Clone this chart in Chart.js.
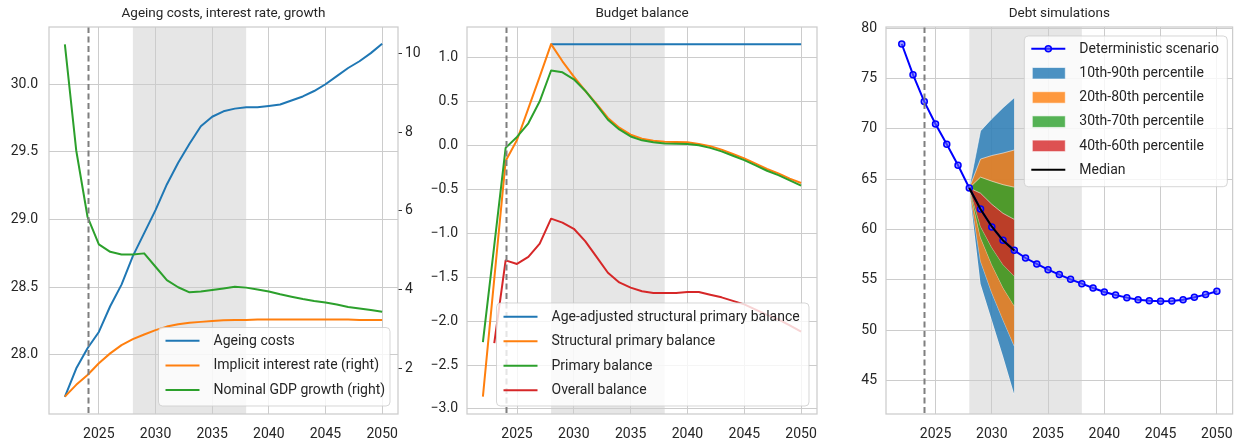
<!DOCTYPE html>
<html>
<head>
<meta charset="utf-8">
<script src="https://cdn.jsdelivr.net/npm/chart.js@4.4.1/dist/chart.umd.min.js"></script>
<style>
  html, body { margin: 0; padding: 0; background: #ffffff; }
  #wrap { position: relative; width: 1245px; height: 441px; overflow: hidden; }
  canvas { position: absolute; top: 0; }
</style>
</head>
<body>
<div id="wrap">
  <canvas id="c1" width="425" height="441" style="left:0px"></canvas>
  <canvas id="c2" width="410" height="441" style="left:420px"></canvas>
  <canvas id="c3" width="415" height="441" style="left:830px"></canvas>
</div>
<script>
// ---- data ----
const years = [2022, 2023, 2024, 2025, 2026, 2027, 2028, 2029, 2030, 2031, 2032, 2033, 2034, 2035,
  2036, 2037, 2038, 2039, 2040, 2041, 2042, 2043, 2044, 2045, 2046, 2047, 2048, 2049, 2050];
const xTicks = [2025, 2030, 2035, 2040, 2045, 2050];

// panel 1: ageing costs (left axis), interest rate and growth (right axis)
const ageingCosts = [27.69, 27.90, 28.05, 28.17, 28.36, 28.52, 28.73, 28.90, 29.07, 29.26, 29.42, 29.56,
  29.69, 29.76, 29.80, 29.82, 29.83, 29.83, 29.84, 29.85, 29.88, 29.91, 29.95, 30.00, 30.06, 30.12, 30.17, 30.23, 30.30];
const interestRate = [1.28, 1.58, 1.83, 2.13, 2.38, 2.59, 2.74, 2.86, 2.97, 3.06, 3.12, 3.16, 3.18, 3.20,
  3.22, 3.23, 3.23, 3.24, 3.24, 3.24, 3.24, 3.24, 3.24, 3.24, 3.24, 3.24, 3.23, 3.23, 3.23];
const gdpGrowth = [10.23, 7.54, 5.85, 5.15, 4.96, 4.89, 4.89, 4.92, 4.58, 4.24, 4.06, 3.93, 3.95, 3.99,
  4.03, 4.07, 4.05, 4.00, 3.95, 3.88, 3.82, 3.76, 3.71, 3.67, 3.62, 3.56, 3.52, 3.48, 3.44];
const leftTicks1 = [28.0, 28.5, 29.0, 29.5, 30.0];
const rightTicks1 = [2, 4, 6, 8, 10];

// panel 2: budget balance
const ageAdjusted = [null, null, null, null, null, null, 1.15, 1.15, 1.15, 1.15, 1.15, 1.15, 1.15, 1.15,
  1.15, 1.15, 1.15, 1.15, 1.15, 1.15, 1.15, 1.15, 1.15, 1.15, 1.15, 1.15, 1.15, 1.15, 1.15];
const structuralPrimary = [-2.86, -1.52, -0.18, 0.06, 0.42, 0.78, 1.15, 0.955, 0.78, 0.62, 0.47, 0.31, 0.20, 0.12,
  0.075, 0.05, 0.04, 0.037, 0.033, 0.014, -0.01, -0.05, -0.10, -0.15, -0.21, -0.27, -0.32, -0.38, -0.43];
const primaryBalance = [-2.24, -1.14, -0.03, 0.094, 0.25, 0.50, 0.85, 0.83, 0.75, 0.62, 0.46, 0.29, 0.18, 0.10,
  0.056, 0.033, 0.02, 0.018, 0.014, 0.0, -0.03, -0.07, -0.12, -0.17, -0.23, -0.29, -0.34, -0.40, -0.46];
const overallBalance = [null, -2.25, -1.31, -1.35, -1.27, -1.12, -0.835, -0.88, -0.95, -1.09, -1.27, -1.45, -1.56, -1.62,
  -1.66, -1.68, -1.68, -1.68, -1.67, -1.67, -1.70, -1.73, -1.77, -1.81, -1.87, -1.93, -1.98, -2.05, -2.12];
const ticks2 = [-3.0, -2.5, -2.0, -1.5, -1.0, -0.5, 0.0, 0.5, 1.0];

// panel 3: debt simulations
const debtDeterministic = [78.44, 75.39, 72.71, 70.49, 68.47, 66.38, 64.12, 62.03, 60.25, 58.92, 57.92, 57.16, 56.57, 56.00,
  55.51, 55.04, 54.61, 54.18, 53.78, 53.48, 53.22, 53.02, 52.92, 52.85, 52.89, 53.02, 53.25, 53.52, 53.85];
const fanYears = [2028, 2029, 2030, 2031, 2032];
const p10 = [64.12, 54.6, 51.0, 47.4, 43.6];
const p20 = [64.12, 56.85, 53.7, 51.0, 48.4];
const p30 = [64.12, 59.2, 56.5, 54.2, 52.4];
const p40 = [64.12, 60.3, 58.2, 56.5, 55.35];
const median = [64.12, 62.0, 60.3, 58.9, 57.9];
const p60 = [64.12, 63.6, 62.5, 61.6, 61.0];
const p70 = [64.12, 65.2, 64.8, 64.45, 64.2];
const p80 = [64.12, 67.0, 67.35, 67.6, 67.9];
const p90 = [64.12, 69.8, 71.0, 72.1, 73.1];
const ticks3 = [45, 50, 55, 60, 65, 70, 75, 80];

const lastActualYear = 2024;
const adjustmentPeriod = [2028, 2038];

// ---- styling ----
const FONT = 'Roboto, "Noto Sans", sans-serif';
const TEXT = '#262626';
const GRID = '#cccccc';
const C_BLUE = '#1f77b4', C_ORANGE = '#ff7f0e', C_GREEN = '#2ca02c', C_RED = '#d62728';
const FAN = {
  blue: 'rgba(31,119,180,0.8)',
  orange: 'rgba(255,127,14,0.8)',
  green: 'rgba(44,160,44,0.8)',
  red: 'rgba(214,39,40,0.8)'
};

Chart.defaults.font.family = FONT;
Chart.defaults.font.size = 14;
Chart.defaults.color = TEXT;

function pts(xs, ys) {
  return xs.map((x, i) => ({ x: x, y: ys[i] }));
}

function line(label, ys, color, extra) {
  return Object.assign({
    label: label,
    data: pts(years, ys),
    borderColor: color,
    backgroundColor: color,
    borderWidth: 2,
    pointRadius: 0,
    tension: 0,
    fill: false,
    spanGaps: false,
    borderJoinStyle: 'round',
    borderCapStyle: 'butt'
  }, extra || {});
}

function fixedTicks(list) {
  return scale => { scale.ticks = list.map(v => ({ value: v })); };
}

function xScale() {
  return {
    type: 'linear',
    min: 2020.6,
    max: 2051.4,
    afterBuildTicks: fixedTicks(xTicks),
    grid: { color: GRID, lineWidth: 1, drawTicks: false },
    border: { display: false },
    ticks: { padding: 12, color: TEXT, callback: v => String(v), maxRotation: 0 },
    afterFit: s => { s.height = 27; }
  };
}

function yScale(min, max, list, fmt, width, pad) {
  return {
    type: 'linear',
    position: 'left',
    min: min,
    max: max,
    afterBuildTicks: fixedTicks(list),
    grid: { color: GRID, lineWidth: 1, drawTicks: false },
    border: { display: false },
    ticks: { padding: pad, color: TEXT, callback: fmt },
    afterFit: s => { s.width = width; }
  };
}

const minus = v => (v < 0 ? '\u2212' + Math.abs(v).toFixed(1) : v.toFixed(1));

// decorations: shaded period, dashed vertical, frame, title, legend
const decor = {
  id: 'decor',
  beforeDraw(chart, args, opts) {
    const { ctx, chartArea: a, scales: { x } } = chart;
    ctx.save();
    ctx.fillStyle = '#e6e6e6';
    const x0 = x.getPixelForValue(adjustmentPeriod[0]);
    const x1 = x.getPixelForValue(adjustmentPeriod[1]);
    ctx.fillRect(x0, a.top, x1 - x0, a.bottom - a.top);
    ctx.restore();
  },
  afterDatasetsDraw(chart, args, opts) {
    const { ctx, chartArea: a, scales: { x } } = chart;
    ctx.save();
    const xv = Math.round(x.getPixelForValue(lastActualYear)) + 0.5;
    ctx.strokeStyle = '#7f7f7f';
    ctx.lineWidth = 2;
    ctx.setLineDash([6, 3.5]);
    ctx.beginPath();
    ctx.moveTo(xv, a.top);
    ctx.lineTo(xv, a.bottom);
    ctx.stroke();
    ctx.setLineDash([]);
    ctx.strokeStyle = GRID;
    ctx.lineWidth = 1.25;
    ctx.strokeRect(a.left, a.top, a.right - a.left, a.bottom - a.top);
    ctx.restore();
  },
  afterDraw(chart, args, opts) {
    const { ctx, chartArea: a } = chart;
    ctx.save();
    ctx.fillStyle = TEXT;
    ctx.font = '13.5px ' + FONT;
    ctx.textAlign = 'center';
    ctx.textBaseline = 'middle';
    ctx.fillText(opts.title, (a.left + a.right) / 2, 14);

    const b = opts.legend;
    ctx.beginPath();
    ctx.roundRect(b.x, b.y, b.w, b.h, 4);
    ctx.fillStyle = 'rgba(255,255,255,0.8)';
    ctx.fill();
    ctx.strokeStyle = 'rgba(204,204,204,0.8)';
    ctx.lineWidth = 1;
    ctx.stroke();
    ctx.font = '14px ' + FONT;
    ctx.textAlign = 'left';
    b.items.forEach((it, i) => {
      const cy = b.y + b.first + i * b.step;
      const sx0 = b.x + 7, sx1 = b.x + 41;
      if (it.kind === 'patch') {
        ctx.fillStyle = it.color;
        ctx.fillRect(sx0 + 1, cy - 5.5, sx1 - sx0 - 1, 11.5);
        ctx.strokeStyle = 'rgba(255,255,255,0.6)';
        ctx.lineWidth = 1;
        ctx.strokeRect(sx0 + 1, cy - 5.5, sx1 - sx0 - 1, 11.5);
      } else {
        ctx.strokeStyle = it.color;
        ctx.lineWidth = 2;
        ctx.beginPath();
        ctx.moveTo(sx0, cy);
        ctx.lineTo(sx1, cy);
        ctx.stroke();
        if (it.kind === 'marker') {
          ctx.beginPath();
          ctx.arc((sx0 + sx1) / 2, cy, 3, 0, Math.PI * 2);
          ctx.fillStyle = 'rgba(90,90,255,0.6)';
          ctx.fill();
          ctx.lineWidth = 1.5;
          ctx.stroke();
        }
      }
      ctx.fillStyle = TEXT;
      ctx.fillText(it.label, b.x + 55, cy + 0.5);
    });
    ctx.restore();
  }
};

function baseOptions(scales, right, decorOpts) {
  return {
    responsive: false,
    animation: false,
    devicePixelRatio: 1,
    layout: { padding: { top: 27, right: right, left: 0, bottom: 0 } },
    scales: scales,
    plugins: {
      legend: { display: false },
      tooltip: { enabled: false },
      decor: decorOpts
    }
  };
}

// ---- panel 1 ----
new Chart(document.getElementById('c1'), {
  type: 'line',
  data: {
    datasets: [
      line('Nominal GDP growth (right)', gdpGrowth, C_GREEN, { yAxisID: 'y2', order: 1 }),
      line('Implicit interest rate (right)', interestRate, C_ORANGE, { yAxisID: 'y2', order: 2 }),
      line('Ageing costs', ageingCosts, C_BLUE, { yAxisID: 'y', order: 3 })
    ]
  },
  options: baseOptions({
    x: xScale(),
    y: yScale(27.564, 30.423, leftTicks1, v => v.toFixed(1), 49, 11),
    y2: {
      type: 'linear',
      position: 'right',
      min: 0.84,
      max: 10.67,
      afterBuildTicks: fixedTicks(rightTicks1),
      grid: { drawOnChartArea: false, drawTicks: true, tickLength: 4, tickColor: '#333333', tickWidth: 1 },
      border: { display: false },
      ticks: { padding: 3, color: TEXT, callback: v => String(v) },
      afterFit: s => { s.width = 27; }
    }
  }, 0, {
    title: 'Ageing costs, interest rate, growth',
    legend: {
      x: 158.5, y: 327.5, w: 231.5, h: 78.5, first: 13.2, step: 24.7,
      items: [
        { label: 'Ageing costs', color: C_BLUE, kind: 'line' },
        { label: 'Implicit interest rate (right)', color: C_ORANGE, kind: 'line' },
        { label: 'Nominal GDP growth (right)', color: C_GREEN, kind: 'line' }
      ]
    }
  }),
  plugins: [decor]
});

// ---- panel 2 ----
new Chart(document.getElementById('c2'), {
  type: 'line',
  data: {
    datasets: [
      line('Overall balance', overallBalance, C_RED, { order: 1 }),
      line('Primary balance', primaryBalance, C_GREEN, { order: 2 }),
      line('Structural primary balance', structuralPrimary, C_ORANGE, { order: 3 }),
      line('Age-adjusted structural primary balance', ageAdjusted, C_BLUE, { order: 4 })
    ]
  },
  options: baseOptions({
    x: xScale(),
    y: yScale(-3.057, 1.345, ticks2, minus, 47, 9)
  }, 13, {
    title: 'Budget balance',
    legend: {
      x: 76.5, y: 303, w: 312.5, h: 103, first: 13.7, step: 24.5,
      items: [
        { label: 'Age-adjusted structural primary balance', color: C_BLUE, kind: 'line' },
        { label: 'Structural primary balance', color: C_ORANGE, kind: 'line' },
        { label: 'Primary balance', color: C_GREEN, kind: 'line' },
        { label: 'Overall balance', color: C_RED, kind: 'line' }
      ]
    }
  }),
  plugins: [decor]
});

// ---- panel 3 ----
function band(label, upper, lower, color, order) {
  const edge = 'rgba(255,255,255,0.55)';
  return [
    { label: label, data: pts(fanYears, upper), borderColor: edge, borderWidth: 1, pointRadius: 0,
      backgroundColor: color, fill: '+1', order: order, tension: 0 },
    { label: label + ' low', data: pts(fanYears, lower), borderColor: edge, borderWidth: 1, pointRadius: 0,
      fill: false, order: order, tension: 0 }
  ];
}

new Chart(document.getElementById('c3'), {
  type: 'line',
  data: {
    datasets: [].concat(
      band('10th-90th percentile', p90, p10, FAN.blue, 10),
      band('20th-80th percentile', p80, p20, FAN.orange, 9),
      band('30th-70th percentile', p70, p30, FAN.green, 8),
      band('40th-60th percentile', p60, p40, FAN.red, 7),
      [
        { label: 'Deterministic scenario', data: pts(years, debtDeterministic), borderColor: '#0000ff',
          borderWidth: 2, pointRadius: 3, pointBorderWidth: 1.5, pointBorderColor: '#0000ff',
          pointBackgroundColor: 'rgba(90,90,255,0.6)', fill: false, order: 6, tension: 0 },
        { label: 'Median', data: pts(fanYears, median), borderColor: '#000000', borderWidth: 2,
          pointRadius: 0, fill: false, order: 5, tension: 0 }
      ]
    )
  },
  options: baseOptions({
    x: xScale(),
    y: yScale(41.65, 80.13, ticks3, v => String(v), 56, 9)
  }, 9, {
    title: 'Debt simulations',
    legend: {
      x: 194.3, y: 36, w: 203, h: 150.7, first: 12.8, step: 24.2,
      items: [
        { label: 'Deterministic scenario', color: '#0000ff', kind: 'marker' },
        { label: '10th-90th percentile', color: FAN.blue, kind: 'patch' },
        { label: '20th-80th percentile', color: FAN.orange, kind: 'patch' },
        { label: '30th-70th percentile', color: FAN.green, kind: 'patch' },
        { label: '40th-60th percentile', color: FAN.red, kind: 'patch' },
        { label: 'Median', color: '#000000', kind: 'line' }
      ]
    }
  }),
  plugins: [decor]
});
</script>
</body>
</html>
